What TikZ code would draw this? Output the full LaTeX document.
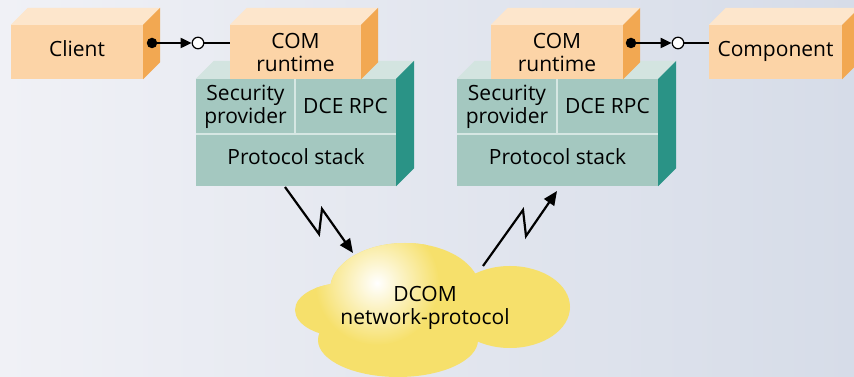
\documentclass[tikz,border=0pt]{standalone}
\usepackage{fontspec}
\setmainfont{Open Sans}
\usetikzlibrary{arrows.meta}

\definecolor{bgleft}{HTML}{F0F1F6}
\definecolor{bgright}{HTML}{D6DCE8}
\definecolor{orfront}{HTML}{FCD4A7}
\definecolor{ortop}{HTML}{FDE6CC}
\definecolor{orside}{HTML}{F2A852}
\definecolor{tlfront}{HTML}{A4C8C0}
\definecolor{tltop}{HTML}{D3E4E0}
\definecolor{tlside}{HTML}{2A9386}
\definecolor{tlline}{HTML}{D6E7E3}
\definecolor{cloudyellow}{HTML}{F6E06B}

\begin{document}
\begin{tikzpicture}[x=1pt,y=1pt,
    txt/.style={font=\fontsize{21}{23}\selectfont},
    orangefront/.style={txt, fill=orfront, inner sep=0pt, align=center, minimum height=54pt},
    tealcell/.style={txt, fill=tlfront, inner sep=0pt, align=center},
    orangetop/.style={fill=ortop},
    orangeside/.style={fill=orside},
    tealtop/.style={fill=tltop},
    tealside/.style={fill=tlside},
    divider/.style={draw=tlline, line width=1.6pt},
    plug/.style={circle, fill=black, inner sep=0pt, minimum size=10.5pt},
    socket/.style={circle, draw=black, fill=white, line width=1.2pt, inner sep=0pt, minimum size=11.5pt},
    wire/.style={line width=1.9pt},
    bolt/.style={line width=2.2pt, -{Triangle[length=14pt,width=12pt]}}]
    \useasboundingbox (0,0) rectangle (854,377);
    \shade[left color=bgleft, right color=bgright] (0,0) rectangle (854,377);
    % left stack
    \node[tealcell, minimum width=99pt, minimum height=55pt] (secL) at (245.5,270.5) {Security\\provider};
    \node[tealcell, minimum width=101pt, minimum height=55pt] (rpcL) at (345.5,270.5) {DCE RPC};
    \node[tealcell, minimum width=200pt, minimum height=52pt, text height=15pt, text depth=5pt] (protoL) at (296,217) {Protocol stack};
    \fill[tealtop] (secL.north west) -- ++(18,18) -- ([shift={(18,18)}]rpcL.north east) -- (rpcL.north east) -- cycle;
    \fill[tealside] (rpcL.north east) -- ++(18,18) -- ([shift={(18,18)}]protoL.south east) -- (protoL.south east) -- cycle;
    \draw[divider] (protoL.north west) -- (protoL.north east);
    \draw[divider] (secL.north east) -- (secL.south east);%
    % right stack
    \node[tealcell, minimum width=100pt, minimum height=55pt] (secR) at (507,270.5) {Security\\provider};
    \node[tealcell, minimum width=101pt, minimum height=55pt] (rpcR) at (607.5,270.5) {DCE RPC};
    \node[tealcell, minimum width=201pt, minimum height=52pt, text height=15pt, text depth=5pt] (protoR) at (557.5,217) {Protocol stack};
    \fill[tealtop] (secR.north west) -- ++(18,18) -- ([shift={(18,18)}]rpcR.north east) -- (rpcR.north east) -- cycle;
    \fill[tealside] (rpcR.north east) -- ++(18,18) -- ([shift={(18,18)}]protoR.south east) -- (protoR.south east) -- cycle;
    \draw[divider] (protoR.north west) -- (protoR.north east);
    \draw[divider] (secR.north east) -- (secR.south east);%
    % orange boxes
    \node[orangefront, minimum width=132pt, text height=15pt, text depth=5pt] (client) at (77,325) {Client};
    \node[orangefront, minimum width=131pt] (comL) at (295.5,325) {COM\\runtime};
    \node[orangefront, minimum width=132pt] (comR) at (557,325) {COM\\runtime};
    \node[orangefront, minimum width=133pt, text height=15pt, text depth=5pt] (component) at (775.5,325) {Component};
    \foreach \b in {client,comL,comR,component}{
        \fill[orangetop] (\b.north west) -- ++(17,17) -- ([shift={(17,17)}]\b.north east) -- (\b.north east) -- cycle;
        \fill[orangeside] (\b.north east) -- ++(17,17) -- ([shift={(17,17)}]\b.south east) -- (\b.south east) -- cycle;
    }%
    % interfaces
    \node[plug] (plugL) at (152,334) {};
    \node[socket] (sockL) at (198,334) {};
    \draw[wire,-{Triangle[length=11pt,width=10pt]}] (plugL) -- (sockL);
    \draw[wire] (sockL) -- (sockL -| comL.west);
    \node[plug] (plugR) at (631,334) {};
    \node[socket] (sockR) at (678,334) {};
    \draw[wire,-{Triangle[length=11pt,width=10pt]}] (plugR) -- (sockR);
    \draw[wire] (sockR) -- (sockR -| component.west);%
    % cloud
    \fill[cloudyellow] (405,87) ellipse (75 and 47)
        (345,67) ellipse (50 and 27)
        (510,70) ellipse (60 and 41)
        (398,37) ellipse (80 and 37);
    \begin{scope}
        \clip (405,87) ellipse (75 and 47) (345,67) ellipse (50 and 27)
            (510,70) ellipse (60 and 41) (398,37) ellipse (80 and 37);
        \shade[inner color=white, outer color=cloudyellow] (377,94) circle (62);
    \end{scope}
    \node[txt, align=center] (dcom) at (425,69) {DCOM\\network-protocol};%
    % lightning
    \coordinate (boltLa) at (285,190);
    \coordinate (boltLb) at (353,124);
    \coordinate (boltRa) at (483,111);
    \coordinate (boltRb) at (557,186);
    \draw[bolt] (boltLa) -- (319,143) -- (322,168) -- (boltLb);
    \draw[bolt] (boltRa) -- (523,167) -- (526,141) -- (boltRb);%
\end{tikzpicture}
\end{document}
